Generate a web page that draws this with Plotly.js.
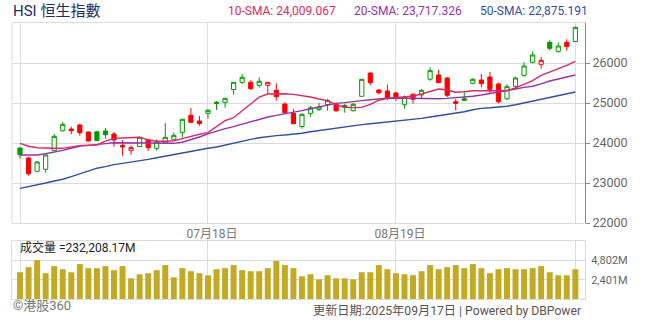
<!DOCTYPE html>
<html><head><meta charset="utf-8">
<script src="https://cdn.plot.ly/plotly-3.0.1.min.js"></script>
<style>html,body{margin:0;padding:0;background:#fff;}#chart{width:654px;height:325px;}</style>
</head><body><div id="chart"></div>
<script>
const dates = ['2025-06-17','2025-06-18','2025-06-19','2025-06-20','2025-06-23','2025-06-24','2025-06-25','2025-06-26','2025-06-27','2025-06-30',
'2025-07-02','2025-07-03','2025-07-04','2025-07-07','2025-07-08','2025-07-09','2025-07-10','2025-07-11','2025-07-14','2025-07-15',
'2025-07-16','2025-07-17','2025-07-18','2025-07-21','2025-07-22','2025-07-23','2025-07-24','2025-07-25','2025-07-28','2025-07-29',
'2025-07-30','2025-07-31','2025-08-01','2025-08-04','2025-08-05','2025-08-06','2025-08-07','2025-08-08','2025-08-11','2025-08-12',
'2025-08-13','2025-08-14','2025-08-15','2025-08-18','2025-08-19','2025-08-20','2025-08-21','2025-08-22','2025-08-25','2025-08-26',
'2025-08-27','2025-08-28','2025-08-29','2025-09-01','2025-09-02','2025-09-03','2025-09-04','2025-09-05','2025-09-08','2025-09-09',
'2025-09-10','2025-09-11','2025-09-12','2025-09-15','2025-09-16','2025-09-17'];

const openP  = [23875,23625,23292,23342,23808,24308,24350,24450,24275,24280,
24300,24225,23940,23817,23912,24075,23867,24000,24092,24267,
24692,24550,24742,24987,25017,25337,25517,25517,25442,25442,
25317,24975,24742,24412,24742,24835,24963,24963,24938,24808,
25167,25750,25325,25300,25250,24967,25220,25200,25595,25700,
25625,25030,25108,25492,25575,25650,25475,25105,25417,25692,
26017,25967,26517,26292,26517,26538];
const highP  = [23885,23658,23550,23708,24225,24525,24408,24483,24285,24285,
24375,24275,24075,23935,24150,24108,24092,24500,24267,24608,
24875,24675,24842,25050,25125,25525,25725,25567,25642,25525,
25492,25013,24850,24742,24925,25000,25105,25008,24983,25000,
25600,25760,25350,25458,25275,25188,25233,25350,25892,25825,
25642,25100,25267,25617,25725,25775,25508,25467,25658,26017,
26292,26150,26567,26517,26592,26912];
const lowP   = [23612,23183,23287,23258,23800,24283,24217,24183,24045,24055,
24108,23908,23683,23710,23905,23800,23808,23995,24087,24137,
24508,24433,24608,24825,24883,25208,25475,25333,25383,25233,
25058,24750,24475,24358,24658,24800,24808,24783,24758,24783,
25160,25438,25208,25075,25055,24858,24983,25113,25558,25500,
25150,24812,25060,25467,25392,25250,24988,25083,25367,25658,
25992,25858,26317,26258,26308,26533];
const closeP = [23707,23233,23525,23700,24167,24467,24308,24258,24050,24060,
24208,24075,23900,23885,24142,23883,24025,24142,24192,24592,
24517,24483,24817,25017,25117,25517,25642,25358,25542,25517,
25158,24758,24483,24717,24880,24900,25063,24805,24892,24967,
25592,25508,25258,25137,25113,25142,25092,25317,25808,25508,
25192,24992,25067,25592,25483,25342,25033,25408,25625,25925,
26200,26067,26367,26425,26410,26892];
const prevCloseBeforeFirst = 23600;

const volumeM = [3327,3958,4843,3200,4085,3705,3327,4338,3832,3832,
4085,3580,4085,2568,3074,3200,3580,4211,2695,3832,
3453,3200,2947,3705,3832,4211,3580,3453,3453,3832,
4716,4211,3832,2821,3074,2442,2947,2568,2568,2442,
3327,3327,4211,3705,3200,3074,2947,3453,4211,3705,
3958,4211,3832,4338,3832,3200,3705,3832,3705,3705,
3832,4085,3327,2947,2947,3705];

const sma10 = [23992,23920,23880,23867,23867,23867,23900,23935,23945,23950,
24045,24115,24125,24135,24142,24080,24045,24042,24055,24110,
24170,24220,24258,24400,24560,24633,24800,24990,25150,25225,
25233,25233,25215,25190,25150,25100,25058,24960,24895,24885,
24890,24967,25070,25115,25135,25150,25175,25225,25290,25350,
25325,25270,25280,25305,25308,25308,25308,25308,25380,25470,
25560,25690,25770,25850,25940,26042];
const sma20 = [23700,23694,23700,23730,23770,23815,23870,23925,23940,23955,
23985,24008,24005,24000,24000,23997,23993,23992,23992,24020,
24080,24150,24230,24300,24360,24408,24470,24533,24590,24650,
24690,24725,24758,24810,24855,24895,24935,24990,25010,25040,
25060,25080,25108,25118,25125,25120,25110,25105,25105,25108,
25115,25130,25150,25170,25200,25235,25265,25300,25350,25390,
25420,25480,25550,25600,25650,25700];
const sma50 = [22867,22905,22950,23000,23050,23095,23160,23235,23300,23370,
23410,23460,23490,23520,23545,23590,23630,23670,23720,23760,
23800,23840,23870,23900,23950,24000,24040,24090,24130,24160,
24185,24200,24218,24245,24280,24310,24340,24380,24405,24440,
24460,24480,24500,24520,24545,24575,24595,24615,24650,24680,
24705,24735,24780,24830,24865,24880,24895,24920,24955,25000,
25060,25100,25140,25180,25230,25275];

const tickDates = ['2025-06-17','2025-07-18','2025-08-19','2025-09-17'];
const tickLabels = ['', '07月18日', '08月19日', ''];
const priceTicks = [22000, 23000, 24000, 25000, 26000];
const priceTickLabels = ['22000', '23000', '24000', '25000', '26000'];
const volTicks = [2401, 4802];
const volTickLabels = ['2,401M', '4,802M'];

const GREEN = '#009a00', RED = '#ff0000', GRID = '#dcdcdc';
const FONT = "Roboto, 'Noto Sans CJK TC', sans-serif";

const up = {x:[],open:[],high:[],low:[],close:[]};
const dn = {x:[],open:[],high:[],low:[],close:[]};
for (let i = 0; i < dates.length; i++) {
  const prev = i ? closeP[i-1] : prevCloseBeforeFirst;
  const t = closeP[i] >= prev ? up : dn;
  t.x.push(dates[i]); t.open.push(openP[i]); t.high.push(highP[i]); t.low.push(lowP[i]); t.close.push(closeP[i]);
}
function candle(g, col) {
  return Object.assign({type:'candlestick', xaxis:'x', yaxis:'y', whiskerwidth:0, hoverinfo:'skip',
    increasing:{line:{color:col,width:1}, fillcolor:'#ffffff'},
    decreasing:{line:{color:col,width:1}, fillcolor:col}}, g);
}
function line(y, col) {
  return {type:'scatter', mode:'lines', x:dates, y:y, xaxis:'x', yaxis:'y', line:{color:col,width:1.4}, hoverinfo:'skip'};
}
const data = [
  line(sma50, '#2f4ea6'), line(sma20, '#9632ac'), line(sma10, '#df2860'),
  candle(up, GREEN), candle(dn, RED),
  {type:'bar', x:dates, y:volumeM, xaxis:'x2', yaxis:'y2', marker:{color:'#c3aa22'}, hoverinfo:'skip'}
];
const L = 12, R = 585, T = 23, B = 299, W = 654, H = 325;
const px = v => (v - L) / (R - L);
const py = v => (B - v) / (B - T);
const xCommon = {type:'category', categoryorder:'array', categoryarray:dates, range:[-0.94, 66.13],
  tickvals:tickDates, showgrid:true, gridcolor:GRID, gridwidth:1, ticks:'', showline:true, mirror:true,
  linecolor:GRID, linewidth:1, zeroline:false, fixedrange:true};
const layout = {
  width:W, height:H, margin:{l:L, r:W-R, t:T, b:H-B, pad:0},
  paper_bgcolor:'#fff', plot_bgcolor:'#fff', showlegend:false, boxmode:'overlay', bargap:0.3,
  font:{family:FONT},
  xaxis: Object.assign({}, xCommon, {anchor:'y', ticktext:tickLabels, ticklabelshift:4,
    tickfont:{size:12, color:'#777', family:FONT}, rangeslider:{visible:false}}),
  yaxis: {domain:[py(223), 1], range:[22000, 27000], side:'right', tickvals:priceTicks, ticktext:priceTickLabels,
    showgrid:true, gridcolor:GRID, showline:true, linecolor:'#888', linewidth:1, ticks:'outside', ticklen:4,
    tickcolor:'#888', tickfont:{size:12.5, color:'#666', family:FONT}, zeroline:false, fixedrange:true},
  xaxis2: Object.assign({}, xCommon, {anchor:'y2', showticklabels:false}),
  yaxis2: {domain:[0, py(241)], range:[0, 7203], side:'right', tickvals:volTicks, ticktext:volTickLabels,
    showgrid:true, gridcolor:GRID, showline:true, mirror:true, linecolor:GRID, ticks:'outside', ticklen:3,
    tickcolor:'rgba(0,0,0,0)', tickfont:{size:11, color:'#666', family:FONT}, zeroline:false, fixedrange:true},
  shapes:[{type:'line', xref:'paper', yref:'paper', x0:0, x1:0, y0:py(223), y1:1, line:{color:GRID, width:1}}],
  annotations:[
    {text:'HSI 恒生指數', xref:'paper', yref:'paper', x:px(11), y:py(11), xanchor:'left', yanchor:'middle', showarrow:false, font:{size:15, color:'#1f2d5c', family:FONT}},
    {text:'10-SMA: 24,009.067', xref:'paper', yref:'paper', x:px(226), y:py(11), xanchor:'left', yanchor:'middle', showarrow:false, font:{size:12, color:'#df2860', family:FONT}},
    {text:'20-SMA: 23,717.326', xref:'paper', yref:'paper', x:px(352), y:py(11), xanchor:'left', yanchor:'middle', showarrow:false, font:{size:12, color:'#9632ac', family:FONT}},
    {text:'50-SMA: 22,875.191', xref:'paper', yref:'paper', x:px(478), y:py(11), xanchor:'left', yanchor:'middle', showarrow:false, font:{size:12, color:'#2f4ea6', family:FONT}},
    {text:'成交量 =232,208.17M', xref:'paper', yref:'paper', x:px(18), y:py(247), xanchor:'left', yanchor:'middle', showarrow:false, font:{size:12, color:'#222', family:FONT}},
    {text:'©港股360', xref:'paper', yref:'paper', x:px(11), y:py(306), xanchor:'left', yanchor:'middle', showarrow:false, font:{size:13, color:'#777', family:FONT}},
    {text:'更新日期:2025年09月17日 | Powered by DBPower', xref:'paper', yref:'paper', x:px(583), y:py(310), xanchor:'right', yanchor:'middle', showarrow:false, font:{size:12.2, color:'#555', family:FONT}}
  ]
};
Plotly.newPlot('chart', data, layout, {staticPlot:true, displayModeBar:false});
</script></body></html>
